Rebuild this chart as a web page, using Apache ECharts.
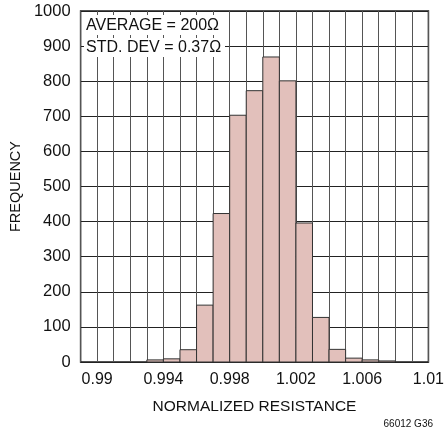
<!DOCTYPE html>
<html>
<head>
<meta charset="utf-8">
<script src="https://cdn.jsdelivr.net/npm/echarts@6/dist/echarts.min.js"></script>
<style>html,body{margin:0;padding:0;background:#fff;}#c{width:447px;height:433px;}</style>
</head>
<body>
<div id="c"></div>
<script>
// Data
const binStart = [0.993, 0.994, 0.995, 0.996, 0.997, 0.998, 0.999, 1.000, 1.001, 1.002, 1.003, 1.004, 1.005, 1.006, 1.007];
const frequency = [6, 9, 35, 162, 423, 703, 773, 869, 801, 396, 127, 36, 11, 6, 3];
const binWidth = 0.001;
const xTickLabels = ['0.99', '0.994', '0.998', '1.002', '1.006', '1.01'];
const yTickLabels = ['0','100','200','300','400','500','600','700','800','900','1000'];
const statLines = ['AVERAGE = 200\u03A9', 'STD. DEV = 0.37\u03A9'];

const FONT = '"Liberation Sans Narrow", "Liberation Sans", Arial, sans-serif';
const TXT = '#111';
const chart = echarts.init(document.getElementById('c'), null, {renderer: 'canvas'});

const seriesData = binStart.map((s, i) => [s, s + binWidth, frequency[i]]);

chart.setOption({
  animation: false,
  backgroundColor: '#fff',
  grid: {left: 79, right: 17, top: 11, bottom: 71, show: true, borderColor: '#1a1a1a', borderWidth: 1.5},
  xAxis: {
    type: 'value', min: 0.989, max: 1.010, interval: 0.001,
    name: 'NORMALIZED RESISTANCE', nameLocation: 'middle', nameGap: 37,
    nameTextStyle: {fontFamily: FONT, fontSize: 15.5, color: TXT},
    axisLine: {show: false}, axisTick: {show: false},
    axisLabel: {
      fontFamily: FONT, fontSize: 16, color: TXT, margin: 10,
      showMinLabel: true, showMaxLabel: true, hideOverlap: false, interval: 0,
      formatter: function (v) {
        const s = String(Number(v.toFixed(3)));
        return xTickLabels.indexOf(s) >= 0 ? s : '';
      }
    },
    splitLine: {show: true, lineStyle: {color: '#555', width: 1}}
  },
  yAxis: {
    type: 'value', min: 0, max: 1000, interval: 100,
    name: 'FREQUENCY', nameLocation: 'middle', nameGap: 54, nameRotate: 90,
    nameTextStyle: {fontFamily: FONT, fontSize: 14.5, color: TXT},
    axisLine: {show: false}, axisTick: {show: false},
    axisLabel: {fontFamily: FONT, fontSize: 16.5, color: TXT, margin: 10,
      formatter: function (v) { const s = String(v); return yTickLabels.indexOf(s) >= 0 ? s : ''; }},
    splitLine: {show: true, lineStyle: {color: '#222', width: 1}}
  },
  series: [{
    type: 'custom',
    data: seriesData,
    encode: {x: [0, 1], y: 2},
    renderItem: function (params, api) {
      const p0 = api.coord([api.value(0), 0]);
      const p1 = api.coord([api.value(1), api.value(2)]);
      return {
        type: 'rect',
        shape: {x: p0[0], y: p1[1], width: p1[0] - p0[0], height: p0[1] - p1[1]},
        style: {fill: '#e2c0bb', stroke: '#333', lineWidth: 1}
      };
    },
    z: 5
  }],
  graphic: [
    {type: 'rect', left: 84, top: 15, z: 100, shape: {width: 136, height: 20}, style: {fill: '#fff'}},
    {type: 'rect', left: 84, top: 38, z: 100, shape: {width: 141, height: 19}, style: {fill: '#fff'}},
    {type: 'text', left: 86, top: 18, z: 101, style: {text: statLines[0], font: '16px ' + FONT, fill: TXT}},
    {type: 'text', left: 86, top: 40, z: 101, style: {text: statLines[1], font: '16px ' + FONT, fill: TXT}},
    {type: 'text', right: 14, top: 419, z: 101, style: {text: '66012 G36', font: '10px ' + FONT, fill: TXT}}
  ]
});
</script>
</body>
</html>
